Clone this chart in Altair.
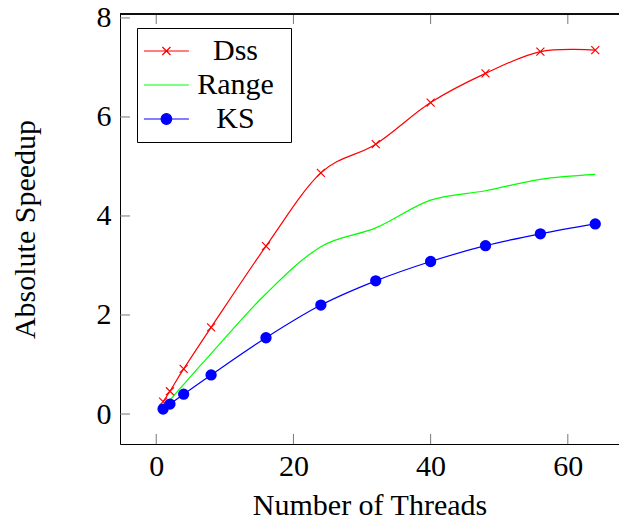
import altair as alt
import pandas as pd

threads = [1, 2, 4, 8, 16, 24, 32, 40, 48, 56, 64]
dss = [0.25, 0.46, 0.91, 1.75, 3.39, 4.87, 5.45, 6.29, 6.88, 7.32, 7.35]
rng = [0.14, 0.28, 0.60, 1.22, 2.43, 3.38, 3.76, 4.32, 4.51, 4.74, 4.84]
ks = [0.10, 0.20, 0.40, 0.79, 1.54, 2.20, 2.69, 3.08, 3.40, 3.64, 3.84]
series_names = ["Dss", "Range", "KS"]
series_colors = ["#ff0000", "#00ff00", "#0000ff"]
x_ticks = [0, 20, 40, 60]
y_ticks = [0, 2, 4, 6, 8]

rows = []
for name, vals in zip(series_names, [dss, rng, ks]):
    for t, v in zip(threads, vals):
        rows.append({"threads": t, "speedup": v, "series": name})
df = pd.DataFrame(rows)
xt = pd.DataFrame({"v": x_ticks})
yt = pd.DataFrame({"v": y_ticks})

W, H = 499, 430
TL = 10
FONT = "Liberation Serif"
xdom = [-5.28, 67.46]
ydom = [-0.606, 8.08]

xs = alt.Scale(domain=xdom, nice=False, zero=False)
ys = alt.Scale(domain=ydom, nice=False, zero=False)
cs = alt.Scale(domain=series_names, range=series_colors)

leg_paths = [
    "M-1.43,0L2.57,0M0.21,-0.36L0.93,0.36M0.21,0.36L0.93,-0.36M10.7,0",
    "M-1.43,0L2.57,0M10.7,0",
    "M-1.43,0L2.57,0M1.04,0A0.47,0.47,0,1,1,0.10,0A0.47,0.47,0,1,1,1.04,0ZM10.7,0",
]
ss = alt.Scale(domain=series_names, range=leg_paths)

main_x_axis = alt.Axis(values=x_ticks, ticks=False, grid=False, domain=True,
                       domainColor="black", domainWidth=1, labelFont=FONT,
                       labelFontSize=30, labelColor="black", labelPadding=7,
                       labelFlush=False, title="Number of Threads", titleFont=FONT,
                       titleFontSize=30, titleFontWeight="normal", titleColor="black",
                       titleBaseline="alphabetic", titleY=70)
main_y_axis = alt.Axis(values=y_ticks, ticks=False, grid=False, domain=True,
                       domainColor="black", domainWidth=1, labelFont=FONT,
                       labelFontSize=30, labelColor="black", labelPadding=9,
                       title="Absolute Speedup", titleFont=FONT, titleFontSize=30,
                       titleFontWeight="normal", titleColor="black", titleX=-80)


def X(field):
    return alt.X(field, scale=xs, axis=main_x_axis)


def Y(field):
    return alt.Y(field, scale=ys, axis=main_y_axis)


line_layers = []
for name, col in zip(series_names, series_colors):
    line_layers.append(
        alt.Chart(df).transform_filter(alt.datum.series == name)
        .mark_line(interpolate="cardinal", strokeWidth=1.2, color=col)
        .encode(x=X("threads:Q"), y=Y("speedup:Q"))
    )

dss_pts = alt.Chart(df).transform_filter(alt.datum.series == "Dss").mark_point(
    shape="M-1,-1L1,1M-1,1L1,-1", size=64, strokeWidth=1.2, color="#ff0000",
    filled=False, opacity=1,
).encode(x=X("threads:Q"), y=Y("speedup:Q"))

ks_pts = alt.Chart(df).transform_filter(alt.datum.series == "KS").mark_circle(
    size=128, color="#0000ff", opacity=1,
).encode(x=X("threads:Q"), y=Y("speedup:Q"))

tick_style = dict(color="#777", strokeWidth=1)
bottom_ticks = alt.Chart(xt).mark_rule(**tick_style).encode(
    x=X("v:Q"), y=alt.value(H), y2=alt.value(H - TL))
top_ticks = alt.Chart(xt).mark_rule(**tick_style).encode(
    x=X("v:Q"), y=alt.value(0), y2=alt.value(TL))
left_ticks = alt.Chart(yt).mark_rule(**tick_style).encode(
    y=Y("v:Q"), x=alt.value(0), x2=alt.value(TL))
top_border = alt.Chart(xt).mark_rule(color="black", strokeWidth=1).encode(
    x=alt.value(0), x2=alt.value(W), y=alt.value(0))

leg = alt.Legend(orient="none", legendX=17, legendY=14, title=None, padding=8,
                 strokeColor="black", fillColor="white", labelFont=FONT,
                 labelFontSize=30, labelColor="black", labelAlign="center",
                 labelOffset=60.5, symbolSize=506, symbolStrokeWidth=1.2,
                 symbolOpacity=1, rowPadding=4)

legend_layer = alt.Chart(df).mark_point(
    filled=False, fill="#0000ff", opacity=0, strokeWidth=1.2
).encode(
    x=X("threads:Q"), y=Y("speedup:Q"),
    color=alt.Color("series:N", scale=cs, legend=leg),
    shape=alt.Shape("series:N", scale=ss, legend=leg),
)

chart = alt.layer(
    *line_layers, bottom_ticks, top_ticks, left_ticks, top_border,
    dss_pts, ks_pts, legend_layer
).properties(
    width=W, height=H,
    autosize=alt.AutoSizeParams(type="none"),
    padding={"left": 112, "top": 6, "right": 0, "bottom": 74},
).configure_view(stroke=None).configure(background="white")

chart.save("out.html", embed_options={"renderer": "svg", "actions": False})
